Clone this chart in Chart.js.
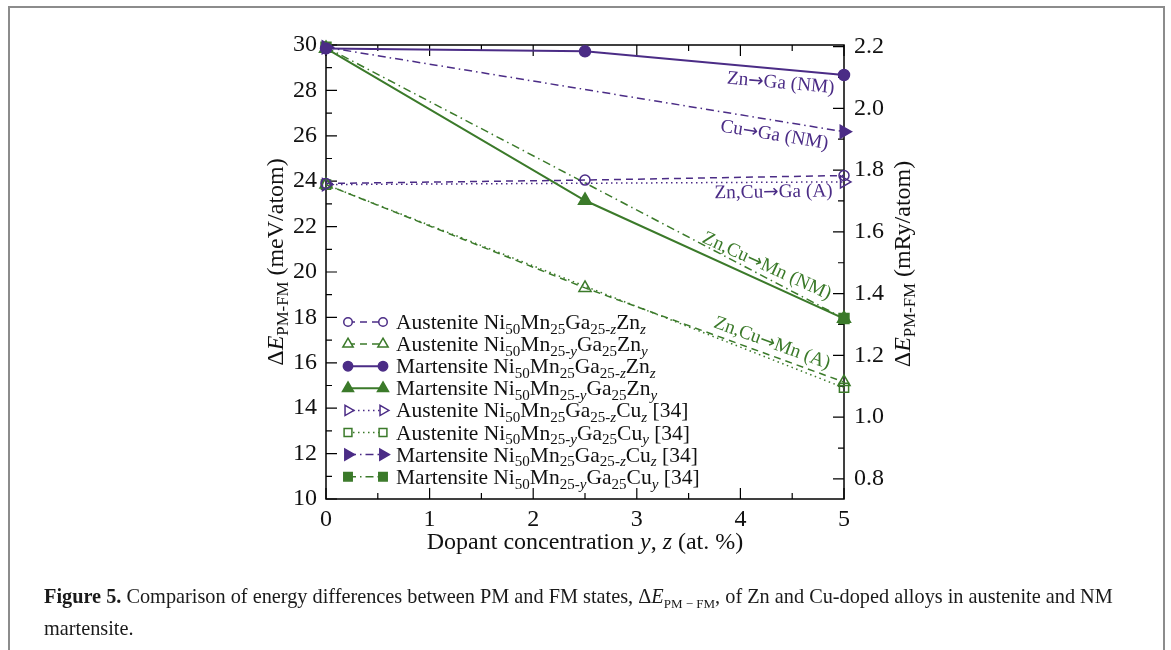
<!DOCTYPE html>
<html>
<head>
<meta charset="utf-8">
<title>Energy differences between PM and FM states</title>
<style>
  body { margin: 0; width: 1171px; height: 650px; overflow: hidden; position: relative; background: #fff; font-family: 'Liberation Serif', serif; }
  .panel { position: absolute; left: 8px; top: 6px; width: 1153px; height: 700px; border: 2px solid #8c8c8c; border-bottom: none; }
  #chart { position: absolute; left: 0; top: 0; }
  .caption { position: absolute; left: 44px; top: 584px; font-size: 20.3px; line-height: 24px; color: #1a1a1a; white-space: nowrap; }
  .caption sub { font-size: 13px; }
</style>
</head>
<body>
<div class="panel"></div>
<canvas id="chart" width="1171" height="650"></canvas>
<div class="caption"><b>Figure 5.</b> Comparison of energy differences between PM and FM states, Δ<i>E</i><sub>PM − FM</sub>, of Zn and Cu-doped alloys in austenite and NM<br>martensite.</div>
<script src="https://cdn.jsdelivr.net/npm/chart.js"></script>
<script>
// dopant concentrations (at. %)
const xZn = [0, 2.5, 5];
const xCu = [0, 5];

// ΔE_PM-FM in meV/atom
const austZnGa = [23.9, 24.05, 24.25];
const austZnMn = [23.85, 19.3, 15.15];
const martZnGa = [29.85, 29.72, 28.68];
const martZnMn = [29.85, 23.15, 17.95];
const austCuGa = [23.85, 23.97];
const austCuMn = [23.85, 14.9];
const martCuGa = [29.9, 26.18];
const martCuMn = [29.9, 17.95];

const xTicks = [0, 1, 2, 3, 4, 5];
const meVTicks = [10, 12, 14, 16, 18, 20, 22, 24, 26, 28, 30];
const mRyTicks = [0.8, 1.0, 1.2, 1.4, 1.6, 1.8, 2.0, 2.2];
const MEV_PER_MRY = 13.6057;

const PURPLE = '#4b2c86';
const GREEN = '#3b7a2a';
const SERIF = "'Liberation Serif', 'DejaVu Serif', serif";

const DASHED = [7, 5];
const DOTTED = [1.5, 3.5];
const DASHDOT = [8, 4, 1.5, 4];

// legend text markup: _{..} = subscript, ~..~ = italic
const series = [
  { name: 'Austenite Ni_{50}Mn_{25}Ga_{25-~z~}Zn_{~z~}', xs: xZn, ys: austZnGa, color: PURPLE, ps: 'circle', rot: 0, r: 5, filled: false, dash: DASHED, lw: 1.5 },
  { name: 'Austenite Ni_{50}Mn_{25-~y~}Ga_{25}Zn_{~y~}', xs: xZn, ys: austZnMn, color: GREEN, ps: 'triangle', rot: 0, r: 7, filled: false, dash: DASHED, lw: 1.5 },
  { name: 'Martensite Ni_{50}Mn_{25}Ga_{25-~z~}Zn_{~z~}', xs: xZn, ys: martZnGa, color: PURPLE, ps: 'circle', rot: 0, r: 5.5, filled: true, dash: [], lw: 2 },
  { name: 'Martensite Ni_{50}Mn_{25-~y~}Ga_{25}Zn_{~y~}', xs: xZn, ys: martZnMn, color: GREEN, ps: 'triangle', rot: 0, r: 7.5, filled: true, dash: [], lw: 2 },
  { name: 'Austenite Ni_{50}Mn_{25}Ga_{25-~z~}Cu_{~z~} [34]', xs: xCu, ys: austCuGa, color: PURPLE, ps: 'triangle', rot: 90, r: 7, filled: false, dash: DOTTED, lw: 1.5 },
  { name: 'Austenite Ni_{50}Mn_{25-~y~}Ga_{25}Cu_{~y~} [34]', xs: xCu, ys: austCuMn, color: GREEN, ps: 'rect', rot: 0, r: 6.5, filled: false, dash: DOTTED, lw: 1.5 },
  { name: 'Martensite Ni_{50}Mn_{25}Ga_{25-~z~}Cu_{~z~} [34]', xs: xCu, ys: martCuGa, color: PURPLE, ps: 'triangle', rot: 90, r: 7.5, filled: true, dash: DASHDOT, lw: 1.5 },
  { name: 'Martensite Ni_{50}Mn_{25-~y~}Ga_{25}Cu_{~y~} [34]', xs: xCu, ys: martCuMn, color: GREEN, ps: 'rect', rot: 0, r: 7, filled: true, dash: DASHDOT, lw: 1.5 }
];

// line labels, anchored in data coordinates and turned along a series segment
const lineLabels = [
  { text: 'Zn→Ga (NM)', x: 4.39, y: 28.37, color: PURPLE, along: [2, 1, 2] },
  { text: 'Cu→Ga (NM)', x: 4.33, y: 26.08, color: PURPLE, along: [6, 0, 1] },
  { text: 'Zn,Cu→Ga (A)', x: 4.32, y: 23.57, color: PURPLE, along: [0, 1, 2] },
  { text: 'Zn,Cu→Mn (NM)', x: 4.26, y: 20.31, color: GREEN, along: [3, 1, 2] },
  { text: 'Zn,Cu→Mn (A)', x: 4.31, y: 16.92, color: GREEN, along: [1, 1, 2] }
];

function parseMarkup(s) {
  const out = [];
  let it = false, sub = false, buf = '';
  const flush = () => { if (buf) { out.push({ t: buf, it, sub }); buf = ''; } };
  for (let i = 0; i < s.length; i++) {
    const c = s[i];
    if (c === '~') { flush(); it = !it; }
    else if (c === '_' && s[i + 1] === '{') { flush(); sub = true; i++; }
    else if (c === '}' && sub) { flush(); sub = false; }
    else buf += c;
  }
  flush();
  return out;
}

function segFont(seg, size) {
  const sz = seg.sub ? size * 0.7 : size;
  return (seg.it ? 'italic ' : '') + sz + 'px ' + SERIF;
}

// draws markup text with its left edge (align 'left') or centre at x, vertical middle at y
function drawRich(ctx, markup, x, y, size, align) {
  const segs = parseMarkup(markup);
  let w = 0;
  segs.forEach(s => { ctx.font = segFont(s, size); s.w = ctx.measureText(s.t).width; w += s.w; });
  let cx = align === 'center' ? x - w / 2 : x;
  ctx.textBaseline = 'alphabetic';
  ctx.textAlign = 'left';
  const base = y + size * 0.33;
  segs.forEach(s => {
    ctx.font = segFont(s, size);
    ctx.fillText(s.t, cx, s.sub ? base + size * 0.22 : base);
    cx += s.w;
  });
}

// centred label text; the arrow is taken from DejaVu Sans, which has a longer one
function drawArrowText(ctx, text, size) {
  const parts = text.split('→');
  const textFont = size + 'px ' + SERIF;
  const arrowFont = (size * 0.95) + "px 'DejaVu Sans', sans-serif";
  const pieces = [];
  parts.forEach((p, i) => {
    if (i > 0) pieces.push({ t: '→', f: arrowFont });
    pieces.push({ t: p, f: textFont });
  });
  let w = 0;
  pieces.forEach(p => { ctx.font = p.f; p.w = ctx.measureText(p.t).width; w += p.w; });
  let cx = -w / 2;
  ctx.textAlign = 'left';
  ctx.textBaseline = 'alphabetic';
  pieces.forEach(p => {
    ctx.font = p.f;
    ctx.fillText(p.t, cx, size * 0.33);
    cx += p.w;
  });
}

function markerPath(ctx, style, x, y, r, rotDeg) {
  const rad = rotDeg * Math.PI / 180;
  ctx.beginPath();
  if (style === 'circle') {
    ctx.arc(x, y, r, 0, Math.PI * 2);
  } else if (style === 'triangle') {
    let a = rad;
    ctx.moveTo(x + Math.sin(a) * r, y - Math.cos(a) * r);
    a += 2 * Math.PI / 3;
    ctx.lineTo(x + Math.sin(a) * r, y - Math.cos(a) * r);
    a += 2 * Math.PI / 3;
    ctx.lineTo(x + Math.sin(a) * r, y - Math.cos(a) * r);
    ctx.closePath();
  } else {
    const h = Math.SQRT1_2 * r;
    ctx.rect(x - h, y - h, 2 * h, 2 * h);
  }
}

const axesFrame = {
  id: 'axesFrame',
  beforeDatasetsDraw(chart) {
    const { ctx, chartArea: a, scales } = chart;
    ctx.save();
    ctx.strokeStyle = '#000';
    ctx.lineWidth = 1.5;
    ctx.strokeRect(a.left, a.top, a.right - a.left, a.bottom - a.top);
    ctx.lineWidth = 1.2;
    ctx.beginPath();
    for (let v = 0; v <= 5.001; v += 0.5) {
      const px = scales.x.getPixelForValue(v);
      const len = Math.abs(v - Math.round(v)) < 1e-6 ? 11 : 6;
      ctx.moveTo(px, a.bottom); ctx.lineTo(px, a.bottom - len);
      ctx.moveTo(px, a.top); ctx.lineTo(px, a.top + len);
    }
    for (let v = 10; v <= 30; v += 1) {
      const py = scales.y.getPixelForValue(v);
      const len = v % 2 === 0 ? 11 : 6;
      ctx.moveTo(a.left, py); ctx.lineTo(a.left + len, py);
    }
    for (let k = 8; k <= 22; k++) {
      const py = scales.yR.getPixelForValue(k / 10);
      const len = k % 2 === 0 ? 11 : 6;
      ctx.moveTo(a.right, py); ctx.lineTo(a.right - len, py);
    }
    ctx.stroke();
    ctx.restore();
  }
};

const extras = {
  id: 'extras',
  afterDatasetsDraw(chart) {
    const { ctx, chartArea: a, scales } = chart;
    ctx.save();

    // labels along the lines
    lineLabels.forEach(l => {
      const s = series[l.along[0]];
      const i0 = l.along[1], i1 = l.along[2];
      const dx = scales.x.getPixelForValue(s.xs[i1]) - scales.x.getPixelForValue(s.xs[i0]);
      const dy = scales.y.getPixelForValue(s.ys[i1]) - scales.y.getPixelForValue(s.ys[i0]);
      ctx.save();
      ctx.translate(scales.x.getPixelForValue(l.x), scales.y.getPixelForValue(l.y));
      ctx.rotate(Math.atan2(dy, dx));
      ctx.fillStyle = l.color;
      drawArrowText(ctx, l.text, 19.3);
      ctx.restore();
    });

    // legend
    const lx0 = a.left + 22, lx1 = a.left + 57, tx = a.left + 70;
    let ly = 322;
    series.forEach(s => {
      ctx.strokeStyle = s.color;
      ctx.lineWidth = s.lw;
      ctx.setLineDash(s.dash);
      ctx.beginPath();
      ctx.moveTo(lx0, ly); ctx.lineTo(lx1, ly);
      ctx.stroke();
      ctx.setLineDash([]);
      [lx0, lx1].forEach(mx => {
        markerPath(ctx, s.ps, mx, ly, s.r * 0.85, s.rot);
        ctx.lineWidth = 1.5;
        ctx.fillStyle = s.filled ? s.color : '#fff';
        ctx.fill();
        ctx.stroke();
      });
      ctx.fillStyle = '#111';
      drawRich(ctx, s.name, tx, ly, 21.5, 'left');
      ly += 22.1;
    });

    // axis titles
    ctx.fillStyle = '#111';
    ctx.save();
    ctx.translate(a.left - 51, 262);
    ctx.rotate(-Math.PI / 2);
    drawRich(ctx, 'Δ~E~_{PM-FM} (meV/atom)', 0, 0, 24, 'center');
    ctx.restore();
    ctx.save();
    ctx.translate(a.right + 58, 264);
    ctx.rotate(-Math.PI / 2);
    drawRich(ctx, 'Δ~E~_{PM-FM} (mRy/atom)', 0, 0, 24, 'center');
    ctx.restore();
    drawRich(ctx, 'Dopant concentration ~y~, ~z~ (at. %)', (a.left + a.right) / 2, a.bottom + 42, 24, 'center');

    ctx.restore();
  }
};

Chart.defaults.font.family = SERIF;
Chart.defaults.color = '#111';

const tickFont = { family: SERIF, size: 24 };

new Chart(document.getElementById('chart'), {
  type: 'line',
  data: {
    datasets: series.map(s => ({
      label: s.name,
      data: s.xs.map((x, i) => ({ x, y: s.ys[i] })),
      borderColor: s.color,
      borderWidth: s.lw,
      borderDash: s.dash,
      pointStyle: s.ps,
      pointRotation: s.rot,
      pointRadius: s.r,
      pointHoverRadius: s.r,
      pointBackgroundColor: s.filled ? s.color : 'rgba(255,255,255,0)',
      pointBorderColor: s.color,
      pointBorderWidth: 1.5,
      fill: false,
      tension: 0,
      clip: false
    }))
  },
  options: {
    responsive: false,
    animation: false,
    events: [],
    layout: { padding: { left: 266, right: 267, top: 45, bottom: 111 } },
    plugins: { legend: { display: false }, tooltip: { enabled: false } },
    scales: {
      x: {
        type: 'linear', min: 0, max: 5,
        afterBuildTicks: s => { s.ticks = xTicks.map(v => ({ value: v })); },
        afterFit: s => { s.height = 40; },
        ticks: { font: tickFont, color: '#111', padding: 6, maxRotation: 0 },
        grid: { display: false, drawTicks: false },
        border: { display: false }
      },
      y: {
        type: 'linear', position: 'left', min: 10, max: 30,
        afterBuildTicks: s => { s.ticks = meVTicks.map(v => ({ value: v })); },
        afterFit: s => { s.width = 60; },
        ticks: { font: tickFont, color: '#111', padding: 9 },
        grid: { display: false, drawTicks: false },
        border: { display: false }
      },
      yR: {
        type: 'linear', position: 'right', min: 10 / MEV_PER_MRY, max: 30 / MEV_PER_MRY,
        afterBuildTicks: s => { s.ticks = mRyTicks.map(v => ({ value: v })); },
        afterFit: s => { s.width = 60; },
        ticks: { font: tickFont, color: '#111', padding: 10, callback: v => v.toFixed(1) },
        grid: { display: false, drawTicks: false },
        border: { display: false }
      }
    }
  },
  plugins: [axesFrame, extras]
});
</script>
</body>
</html>
